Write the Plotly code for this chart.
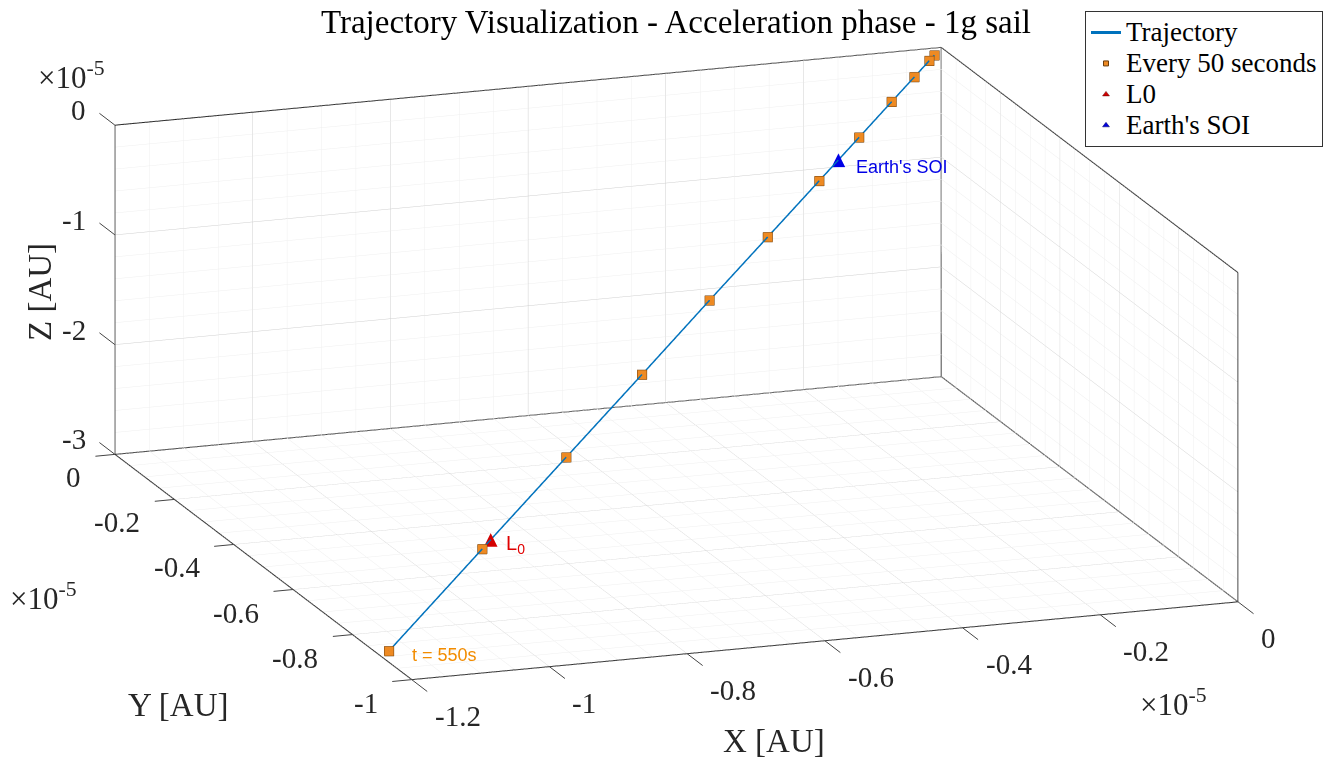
import math
import plotly.graph_objects as go

# Spacecraft positions sampled every 50 s during the acceleration phase [AU]
t_s = [0, 50, 100, 150, 200, 250, 300, 350, 400, 450, 500, 550]
x_au = [-0.015e-5, -0.026e-5, -0.058e-5, -0.107e-5, -0.177e-5, -0.263e-5,
        -0.374e-5, -0.499e-5, -0.645e-5, -0.808e-5, -0.989e-5, -1.190e-5]
y_au = [-0.012e-5, -0.020e-5, -0.044e-5, -0.081e-5, -0.134e-5, -0.199e-5,
        -0.283e-5, -0.377e-5, -0.488e-5, -0.611e-5, -0.748e-5, -0.900e-5]
z_au = [-0.038e-5, -0.065e-5, -0.145e-5, -0.266e-5, -0.440e-5, -0.652e-5,
        -0.926e-5, -1.236e-5, -1.599e-5, -2.003e-5, -2.451e-5, -2.950e-5]

# Special points on the trajectory
l0_pos = [-0.971e-5, -0.734e-5, -2.407e-5]
soi_pos = [-0.222e-5, -0.168e-5, -0.551e-5]

# Axis ticks (in units of 1e-5 AU)
SCALE = 1e-5
x_ticks = [-1.2, -1.0, -0.8, -0.6, -0.4, -0.2, 0.0]
x_tick_text = ["-1.2", "-1", "-0.8", "-0.6", "-0.4", "-0.2", "0"]
y_ticks = [-1.0, -0.8, -0.6, -0.4, -0.2, 0.0]
y_tick_text = ["-1", "-0.8", "-0.6", "-0.4", "-0.2", "0"]
z_ticks = [-3, -2, -1, 0]
z_tick_text = ["-3", "-2", "-1", "0"]
x_minor_step, y_minor_step, z_minor_step = 0.05, 0.05, 0.2

x_lim = [-1.2 * SCALE, 0.0]
y_lim = [-1.0 * SCALE, 0.0]
z_lim = [-3.0 * SCALE, 0.0]

W, H = 1336, 760
SERIF = "Liberation Serif, Times New Roman, serif"
SANS = "Liberation Sans, Arial, sans-serif"
LINE_BLUE = "#0072BD"
ORANGE = "#EE8A22"
DARK = "#262626"


def px(x):
    return x / W


def py(y):
    return 1 - y / H


def minor_values(lo, hi, step, majors):
    n = int(round((hi - lo) / step))
    vals = [round(lo + i * step, 6) for i in range(n + 1)]
    return [v * SCALE for v in vals if all(abs(v - m) > 1e-6 for m in majors)]


def segments(pairs):
    xs, ys, zs = [], [], []
    for a, b in pairs:
        xs += [a[0], b[0], None]
        ys += [a[1], b[1], None]
        zs += [a[2], b[2], None]
    return xs, ys, zs


x0, x1 = x_lim
y0, y1 = y_lim
z0, z1 = z_lim

fig = go.Figure()

# minor grid on the three back planes
xm = minor_values(-1.2, 0.0, x_minor_step, x_ticks)
ym = minor_values(-1.0, 0.0, y_minor_step, y_ticks)
zm = minor_values(-3.0, 0.0, z_minor_step, z_ticks)
minor = []
minor += [((x, y1, z0), (x, y1, z1)) for x in xm]
minor += [((x0, y1, z), (x1, y1, z)) for z in zm]
minor += [((x, y0, z0), (x, y1, z0)) for x in xm]
minor += [((x0, y, z0), (x1, y, z0)) for y in ym]
minor += [((x1, y, z0), (x1, y, z1)) for y in ym]
minor += [((x1, y0, z), (x1, y1, z)) for z in zm]
mx, my, mz = segments(minor)
fig.add_trace(go.Scatter3d(
    x=mx, y=my, z=mz, mode="lines", showlegend=False, hoverinfo="skip",
    line=dict(color="#efefef", width=1)))

# box outline (back walls and floor)
edges = [
    ((x0, y1, z1), (x1, y1, z1)), ((x0, y1, z0), (x0, y1, z1)),
    ((x1, y1, z0), (x1, y1, z1)), ((x0, y1, z0), (x1, y1, z0)),
    ((x1, y0, z1), (x1, y1, z1)), ((x1, y0, z0), (x1, y0, z1)),
    ((x1, y0, z0), (x1, y1, z0)), ((x0, y0, z0), (x1, y0, z0)),
    ((x0, y0, z0), (x0, y1, z0)),
]
ex, ey, ez = segments(edges)
fig.add_trace(go.Scatter3d(
    x=ex, y=ey, z=ez, mode="lines", showlegend=False, hoverinfo="skip",
    line=dict(color="#1a1a1a", width=2)))

LEG = '<span style="font-size:27px">{}</span>'

fig.add_trace(go.Scatter3d(
    x=x_au, y=y_au, z=z_au, mode="lines", name=LEG.format("Trajectory"),
    line=dict(color=LINE_BLUE, width=3), hoverinfo="skip"))

fig.add_trace(go.Scatter3d(
    x=x_au, y=y_au, z=z_au, mode="markers",
    name=LEG.format("Every 50 seconds"),
    marker=dict(symbol="square", size=5, color=ORANGE,
                line=dict(color="#6b3d0c", width=1)),
    text=[f"t = {t}s" for t in t_s], hoverinfo="text"))

# legend entries with triangle symbols
fig.add_trace(go.Scatter(
    x=[None], y=[None], mode="markers", name=LEG.format("L0"),
    legendgroup="l0",
    marker=dict(symbol="triangle-up", size=6, color="#d00000",
                line=dict(color="#600000", width=0.5))))
fig.add_trace(go.Scatter(
    x=[None], y=[None], mode="markers", name=LEG.format("Earth's SOI"),
    legendgroup="soi",
    marker=dict(symbol="triangle-up", size=6, color="#0000e0",
                line=dict(color="#000060", width=0.5))))

# triangle marks in the scene
fig.add_trace(go.Scatter3d(
    x=[l0_pos[0]], y=[l0_pos[1]], z=[l0_pos[2]], mode="text", text=["▲"],
    textfont=dict(family="DejaVu Sans", size=18, color="#d40000"),
    textposition="middle center", showlegend=False, legendgroup="l0",
    hoverinfo="skip"))
fig.add_trace(go.Scatter3d(
    x=[soi_pos[0]], y=[soi_pos[1]], z=[soi_pos[2]], mode="text", text=["▲"],
    textfont=dict(family="DejaVu Sans", size=18, color="#0000e6"),
    textposition="middle center", showlegend=False, legendgroup="soi",
    hoverinfo="skip"))

axis_common = dict(
    showbackground=False, showgrid=True, gridcolor="#cfcfcf", gridwidth=1,
    showline=False, ticks="", showticklabels=False,
    zeroline=False, showspikes=False, title=dict(text=""), autorange=False)

# tick labels and tick marks placed on the box edges
TICK_FONT = dict(family=SERIF, size=29, color=DARK)
scene_ann = []


def tick(xv, yv, zv, label, anchor, xs, ys, tx, ty):
    scene_ann.append(dict(x=xv, y=yv, z=zv, text=label, showarrow=False,
                          xanchor=anchor, yanchor="middle",
                          xshift=xs, yshift=ys, font=TICK_FONT))
    scene_ann.append(dict(x=xv, y=yv, z=zv, text=" ", showarrow=True,
                          arrowhead=0, arrowwidth=1, arrowcolor="#444444",
                          ax=tx, ay=ty, font=dict(size=1)))


for v, s in zip(x_ticks, x_tick_text):
    tick(v * SCALE, y0, z0, s, "left", 21, -36, 17, 13)
for v, s in zip(y_ticks, y_tick_text):
    tick(x0, v * SCALE, z0, s, "right", -32, -23, -21, 2)
for v, s in zip(z_ticks, z_tick_text):
    tick(x0, y1, v * SCALE, s, "right", -27, 15, -17, -13)

scene_ann += [
    dict(x=x_au[-1], y=y_au[-1], z=z_au[-1], text="t = 550s", showarrow=False,
         xanchor="left", xshift=21, yshift=-4,
         font=dict(family=SANS, size=18, color="#F28C00")),
    dict(x=l0_pos[0], y=l0_pos[1], z=l0_pos[2], text="L<sub>0</sub>",
         showarrow=False, xanchor="left", xshift=14, yshift=-5,
         font=dict(family=SANS, size=20, color="#E00000")),
    dict(x=soi_pos[0], y=soi_pos[1], z=soi_pos[2], text="Earth's SOI",
         showarrow=False, xanchor="left", xshift=16, yshift=-7,
         font=dict(family=SANS, size=18, color="#0000E6")),
]

# camera direction from azimuth / elevation
az = math.radians(250.6)
el = math.radians(15.5)
r_eye = 2.0
eye = dict(x=r_eye * math.cos(el) * math.cos(az),
           y=r_eye * math.cos(el) * math.sin(az),
           z=r_eye * math.sin(el))
BOX = 2.41

LABEL_FONT = dict(family=SERIF, size=33, color=DARK)
MULT_FONT = dict(family=SERIF, size=31, color=DARK)
MULT = "×10<sup>-5</sup>"


def paper_text(text, x, y, font, xanchor="center", angle=0):
    return dict(text=text, x=px(x), y=py(y), xref="paper", yref="paper",
                xanchor=xanchor, yanchor="middle", textangle=angle,
                showarrow=False, font=font)


fig.update_layout(
    width=W, height=H,
    margin=dict(l=0, r=0, t=0, b=0),
    paper_bgcolor="white", plot_bgcolor="white",
    title=dict(text="Trajectory Visualization - Acceleration phase - 1g sail",
               font=dict(family=SERIF, size=33, color="black"),
               x=px(676), xanchor="center", y=py(21), yanchor="middle"),
    xaxis=dict(visible=False), yaxis=dict(visible=False),
    legend=dict(x=px(1323), y=py(11), xanchor="right", yanchor="top",
                font=dict(family=SERIF, size=21.5, color="black"),
                bordercolor="#333333", borderwidth=1, bgcolor="white",
                tracegroupgap=0, itemwidth=30),
    scene=dict(
        domain=dict(x=[0.0127, 1], y=[0.0434, 1]),
        xaxis=dict(axis_common, range=x_lim,
                   tickvals=[v * SCALE for v in x_ticks]),
        yaxis=dict(axis_common, range=y_lim,
                   tickvals=[v * SCALE for v in y_ticks]),
        zaxis=dict(axis_common, range=z_lim,
                   tickvals=[v * SCALE for v in z_ticks]),
        aspectmode="manual",
        aspectratio=dict(x=1.0 * BOX, y=1.02 * BOX, z=0.39 * BOX),
        camera=dict(eye=eye, up=dict(x=0, y=0, z=1),
                    center=dict(x=0, y=0, z=0),
                    projection=dict(type="orthographic")),
        annotations=scene_ann),
    annotations=[
        paper_text("Z [AU]", 40, 292, LABEL_FONT, angle=-90),
        paper_text("Y [AU]", 178, 705, LABEL_FONT),
        paper_text("X [AU]", 774, 741, LABEL_FONT),
        paper_text(MULT, 36, 76, MULT_FONT, xanchor="left"),
        paper_text(MULT, 8, 596, MULT_FONT, xanchor="left"),
        paper_text(MULT, 1138, 702, MULT_FONT, xanchor="left"),
    ],
)

fig.write_html("out.html")
